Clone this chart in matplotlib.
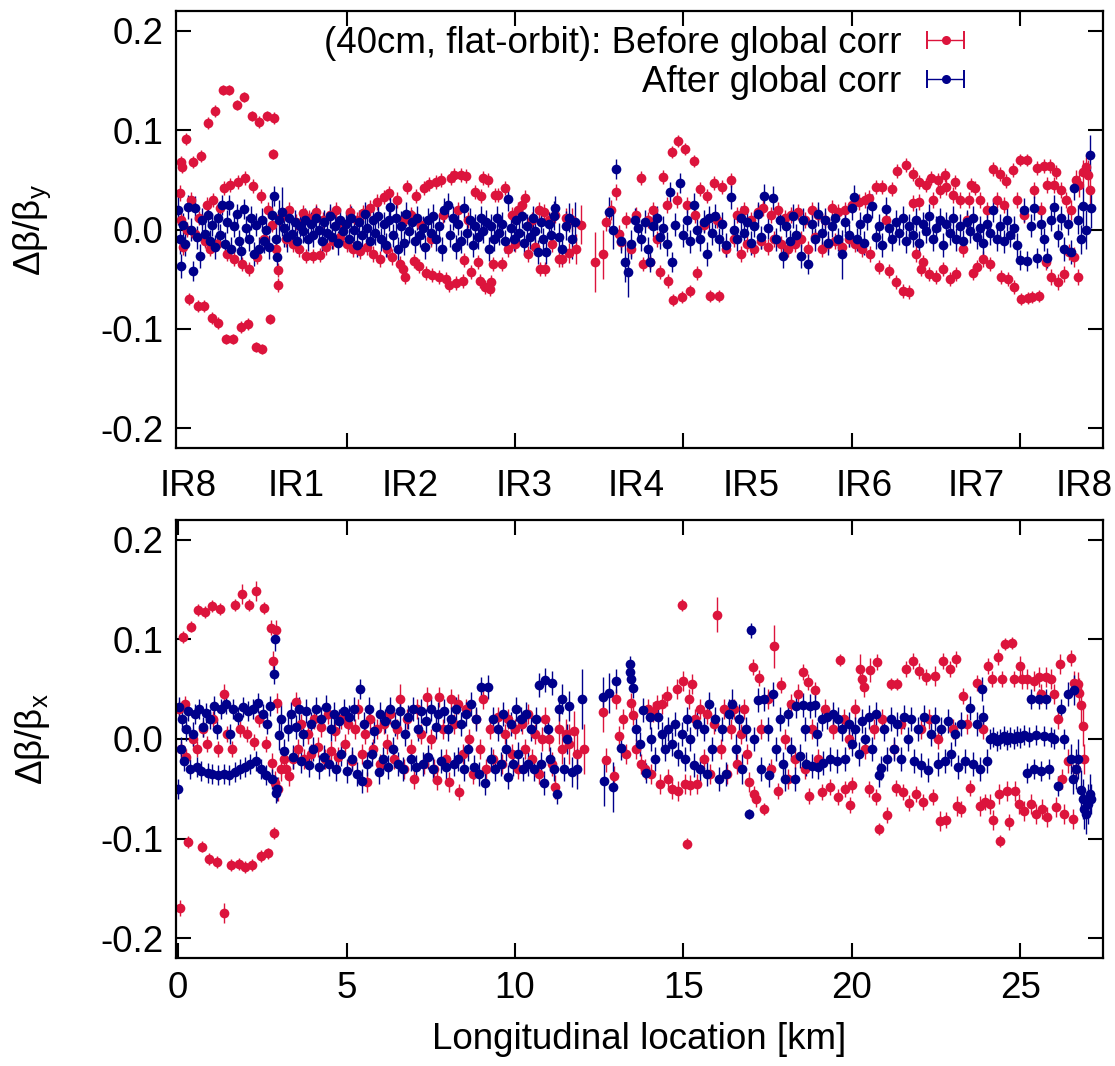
import numpy as np
import matplotlib
matplotlib.use("Agg")
import matplotlib.pyplot as plt
from matplotlib.container import ErrorbarContainer
from matplotlib.lines import Line2D
from matplotlib.collections import LineCollection

plt.rcParams['font.family'] = ['Liberation Sans', 'DejaVu Sans']

# (s [km], delta beta / beta, error)
before_y = [
    (0.05, 0.037, 0.008), (0.08, 0.068, 0.006), (0.10, 0.010, 0.008), (0.12, 0.063, 0.006), (0.15, -0.018, 0.008),
    (0.24, 0.091, 0.006), (0.28, 0.000, 0.008), (0.33, -0.070, 0.006), (0.38, 0.030, 0.008), (0.45, 0.068, 0.006),
    (0.50, -0.005, 0.007), (0.60, -0.077, 0.006), (0.62, 0.012, 0.007), (0.68, 0.074, 0.006), (0.77, -0.077, 0.006),
    (0.80, -0.012, 0.007), (0.85, 0.025, 0.008), (0.89, 0.107, 0.006), (0.95, -0.020, 0.007), (1.00, -0.089, 0.006),
    (1.05, 0.030, 0.007), (1.10, 0.119, 0.006), (1.15, -0.015, 0.007), (1.20, -0.094, 0.006), (1.25, 0.022, 0.007),
    (1.34, 0.140, 0.005), (1.36, 0.042, 0.007), (1.42, -0.110, 0.005), (1.45, -0.025, 0.007), (1.50, 0.140, 0.005),
    (1.55, 0.045, 0.007), (1.63, -0.110, 0.005), (1.66, -0.030, 0.007), (1.75, 0.125, 0.005), (1.78, 0.048, 0.007),
    (1.87, -0.098, 0.006), (1.90, -0.035, 0.007), (1.96, 0.133, 0.005), (2.00, 0.052, 0.007), (2.08, -0.095, 0.006),
    (2.12, -0.040, 0.007), (2.20, 0.114, 0.005), (2.22, 0.044, 0.007), (2.30, -0.118, 0.005), (2.35, -0.028, 0.007),
    (2.40, 0.108, 0.006), (2.45, 0.034, 0.007), (2.50, -0.120, 0.005), (2.55, -0.010, 0.007), (2.64, 0.114, 0.005),
    (2.66, 0.020, 0.008), (2.73, -0.090, 0.005), (2.78, 0.005, 0.008), (2.82, 0.076, 0.005), (2.85, 0.112, 0.006),
    (2.90, -0.020, 0.008), (2.96, -0.041, 0.007), (2.97, -0.056, 0.007), (3.02, 0.012, 0.010),
    (3.10, 0.015, 0.008), (3.20, -0.010, 0.008), (3.30, 0.020, 0.008), (3.40, -0.015, 0.008), (3.50, 0.008, 0.008),
    (3.60, -0.020, 0.008), (3.70, 0.017, 0.008), (3.80, -0.027, 0.007), (3.90, 0.012, 0.008), (4.00, -0.027, 0.007),
    (4.10, 0.018, 0.008), (4.20, -0.026, 0.007), (4.30, 0.010, 0.008), (4.40, -0.018, 0.008), (4.50, 0.015, 0.008),
    (4.60, -0.012, 0.008), (4.70, 0.020, 0.008), (4.80, -0.008, 0.008), (4.90, 0.005, 0.008), (5.00, -0.015, 0.008),
    (5.10, 0.018, 0.008), (5.20, -0.020, 0.008), (5.30, 0.010, 0.008), (5.40, -0.022, 0.008), (5.50, 0.017, 0.008),
    (5.60, -0.018, 0.008), (5.70, 0.022, 0.008), (5.80, -0.025, 0.008), (5.90, 0.028, 0.008), (6.00, -0.030, 0.008),
    (6.10, 0.033, 0.007), (6.20, -0.020, 0.008), (6.25, 0.037, 0.007), (6.35, -0.028, 0.008), (6.50, 0.030, 0.008),
    (6.60, -0.035, 0.008), (6.68, -0.040, 0.007), (6.72, 0.010, 0.008), (6.75, -0.048, 0.007), (6.80, 0.043, 0.007),
    (6.90, 0.015, 0.008), (7.00, -0.032, 0.007), (7.05, 0.034, 0.007), (7.15, -0.037, 0.007), (7.20, 0.005, 0.008),
    (7.30, 0.042, 0.007), (7.35, -0.044, 0.007), (7.45, 0.046, 0.007), (7.50, -0.010, 0.008), (7.55, -0.046, 0.007),
    (7.65, 0.048, 0.007), (7.75, -0.048, 0.007), (7.80, 0.050, 0.007), (7.85, 0.015, 0.008), (7.95, -0.050, 0.007),
    (8.05, -0.056, 0.007), (8.10, 0.052, 0.007), (8.20, 0.055, 0.007), (8.25, -0.054, 0.007), (8.30, 0.020, 0.008),
    (8.40, 0.055, 0.007), (8.45, -0.052, 0.007), (8.50, -0.031, 0.007), (8.55, 0.054, 0.007), (8.60, 0.010, 0.008),
    (8.70, -0.043, 0.007), (8.80, 0.038, 0.007), (8.90, -0.033, 0.007), (8.95, -0.052, 0.007), (9.00, 0.034, 0.007),
    (9.05, 0.052, 0.007), (9.10, -0.058, 0.007), (9.20, 0.050, 0.007), (9.25, -0.060, 0.007), (9.30, -0.053, 0.007),
    (9.35, -0.035, 0.007), (9.40, 0.035, 0.007), (9.50, 0.035, 0.007), (9.60, -0.035, 0.007), (9.70, 0.042, 0.007),
    (9.80, -0.020, 0.008), (9.90, 0.015, 0.008), (10.00, -0.015, 0.008), (10.10, 0.020, 0.008), (10.20, 0.025, 0.008),
    (10.30, 0.032, 0.008), (10.40, -0.025, 0.008), (10.50, 0.010, 0.008), (10.60, -0.018, 0.008), (10.70, 0.020, 0.008),
    (10.75, -0.040, 0.007), (10.85, 0.018, 0.008), (10.90, -0.040, 0.007), (11.00, 0.010, 0.008), (11.10, -0.015, 0.008),
    (11.20, 0.015, 0.008), (11.30, -0.030, 0.008), (11.40, -0.030, 0.008), (11.50, 0.012, 0.010), (11.60, -0.024, 0.010),
    (11.70, 0.010, 0.012), (11.80, -0.020, 0.015), (11.95, 0.005, 0.020),
    (12.37, -0.033, 0.030), (12.60, -0.025, 0.025), (12.70, 0.008, 0.010), (12.85, 0.020, 0.010), (13.00, 0.038, 0.008),
    (13.10, -0.005, 0.010), (13.15, -0.013, 0.008), (13.30, 0.010, 0.008), (13.45, -0.020, 0.008), (13.60, 0.015, 0.008),
    (13.75, 0.052, 0.007), (13.80, -0.035, 0.007), (13.95, 0.010, 0.008), (14.00, -0.033, 0.007), (14.10, 0.020, 0.008),
    (14.20, -0.010, 0.008), (14.30, -0.043, 0.007), (14.40, 0.053, 0.007), (14.50, 0.025, 0.008), (14.55, -0.052, 0.007),
    (14.65, 0.078, 0.006), (14.70, -0.071, 0.006), (14.80, 0.030, 0.008), (14.85, 0.089, 0.006), (14.95, -0.068, 0.006),
    (15.05, 0.081, 0.006), (15.10, 0.025, 0.008), (15.20, -0.062, 0.006), (15.30, 0.069, 0.006), (15.35, 0.015, 0.008),
    (15.40, -0.044, 0.007), (15.50, 0.041, 0.007), (15.60, 0.005, 0.008), (15.70, 0.034, 0.007), (15.80, -0.067, 0.006),
    (15.90, 0.047, 0.007), (16.00, 0.010, 0.008), (16.05, -0.067, 0.006), (16.15, 0.043, 0.007), (16.25, -0.020, 0.008),
    (16.40, 0.050, 0.007), (16.50, -0.010, 0.008),
    (16.60, 0.015, 0.008), (16.70, -0.025, 0.008), (16.80, 0.020, 0.008), (16.90, -0.015, 0.008), (17.00, 0.010, 0.008),
    (17.10, -0.020, 0.008), (17.20, 0.018, 0.008), (17.30, -0.012, 0.008), (17.35, 0.022, 0.008), (17.50, -0.018, 0.008),
    (17.60, 0.015, 0.008), (17.70, -0.010, 0.008), (17.80, 0.020, 0.008), (17.90, -0.015, 0.008), (18.00, 0.012, 0.008),
    (18.10, -0.020, 0.008), (18.20, 0.015, 0.008), (18.30, -0.015, 0.008), (18.40, 0.018, 0.008), (18.50, -0.010, 0.008),
    (18.60, 0.010, 0.008), (18.70, -0.020, 0.008), (18.80, 0.020, 0.008), (18.90, -0.008, 0.008), (19.00, 0.015, 0.008),
    (19.10, -0.020, 0.008), (19.20, 0.010, 0.008), (19.30, -0.015, 0.008), (19.40, 0.022, 0.008), (19.50, -0.012, 0.008),
    (19.60, 0.018, 0.008), (19.70, -0.018, 0.008), (19.80, 0.020, 0.008), (19.90, -0.010, 0.008), (20.00, 0.025, 0.008),
    (20.10, -0.015, 0.008), (20.20, 0.028, 0.008), (20.30, -0.020, 0.008), (20.40, 0.030, 0.008), (20.50, 0.032, 0.008),
    (20.55, -0.025, 0.008),
    (20.70, 0.043, 0.007), (20.80, -0.038, 0.007), (20.90, 0.043, 0.007), (21.00, 0.010, 0.008), (21.10, -0.042, 0.007),
    (21.20, 0.041, 0.007), (21.30, -0.053, 0.007), (21.35, 0.059, 0.007), (21.50, -0.062, 0.007), (21.60, 0.065, 0.007),
    (21.70, -0.063, 0.007), (21.80, 0.056, 0.007), (21.82, 0.027, 0.008), (21.90, -0.025, 0.008), (21.98, 0.028, 0.008),
    (22.00, 0.048, 0.007), (22.05, -0.040, 0.007), (22.10, -0.033, 0.007), (22.20, 0.045, 0.007), (22.30, -0.045, 0.007),
    (22.35, 0.052, 0.007), (22.40, 0.030, 0.008), (22.50, -0.048, 0.007), (22.55, 0.050, 0.007), (22.60, 0.040, 0.008),
    (22.70, -0.040, 0.007), (22.75, 0.055, 0.007), (22.80, 0.043, 0.008), (22.90, -0.050, 0.007), (23.00, 0.035, 0.008),
    (23.05, 0.048, 0.007), (23.10, -0.045, 0.007), (23.20, 0.030, 0.008), (23.30, -0.020, 0.008), (23.40, 0.010, 0.008),
    (23.48, 0.030, 0.008), (23.52, 0.045, 0.007), (23.60, -0.044, 0.007), (23.65, 0.042, 0.007), (23.70, -0.038, 0.007),
    (23.80, 0.030, 0.008), (23.90, -0.030, 0.008), (24.00, 0.020, 0.008), (24.10, -0.035, 0.007), (24.20, 0.061, 0.007),
    (24.30, 0.030, 0.008), (24.38, 0.056, 0.007), (24.42, -0.048, 0.007), (24.50, 0.025, 0.008), (24.58, 0.049, 0.007),
    (24.62, -0.050, 0.007), (24.78, 0.060, 0.007), (24.82, -0.058, 0.007), (24.90, 0.030, 0.008), (24.98, 0.070, 0.006),
    (25.02, -0.070, 0.006), (25.10, 0.015, 0.008), (25.18, 0.070, 0.006), (25.22, -0.069, 0.006), (25.35, -0.068, 0.006),
    (25.40, 0.040, 0.008), (25.50, 0.062, 0.007), (25.55, -0.067, 0.006), (25.60, 0.020, 0.008), (25.70, 0.064, 0.007),
    (25.75, -0.033, 0.008), (25.80, 0.045, 0.008), (25.88, 0.064, 0.007), (25.92, -0.048, 0.008), (26.00, 0.045, 0.008),
    (26.05, 0.058, 0.007), (26.10, -0.053, 0.008), (26.20, 0.040, 0.008), (26.30, -0.045, 0.008), (26.35, 0.030, 0.008),
    (26.45, -0.023, 0.008), (26.50, 0.020, 0.010), (26.60, -0.028, 0.010), (26.65, 0.050, 0.010), (26.70, -0.048, 0.008),
    (26.75, 0.045, 0.012), (26.85, 0.058, 0.012), (26.95, 0.063, 0.012), (27.00, 0.055, 0.015), (27.05, 0.040, 0.015),
]

after_y = [
    (0.00, 0.020, 0.015), (0.05, -0.010, 0.015), (0.09, -0.037, 0.012), (0.15, 0.005, 0.012), (0.22, -0.015, 0.012),
    (0.30, 0.023, 0.012), (0.38, 0.000, 0.012), (0.45, -0.042, 0.010), (0.50, 0.022, 0.012), (0.56, -0.008, 0.012),
    (0.65, -0.027, 0.012), (0.72, 0.010, 0.012), (0.80, -0.005, 0.012), (0.88, 0.015, 0.012), (0.95, -0.012, 0.012),
    (1.02, 0.005, 0.012), (1.10, -0.018, 0.012), (1.18, 0.012, 0.012), (1.25, -0.006, 0.012), (1.30, 0.025, 0.010),
    (1.38, -0.015, 0.012), (1.45, 0.008, 0.012), (1.50, 0.025, 0.010), (1.58, -0.020, 0.012), (1.65, 0.004, 0.012),
    (1.75, 0.016, 0.010), (1.82, -0.012, 0.012), (1.88, -0.022, 0.012), (1.95, 0.021, 0.010), (2.02, 0.002, 0.012),
    (2.10, -0.010, 0.012), (2.18, 0.012, 0.012), (2.25, -0.025, 0.012), (2.32, 0.005, 0.012), (2.40, -0.020, 0.012),
    (2.48, 0.010, 0.012), (2.55, -0.012, 0.012), (2.62, 0.000, 0.012), (2.70, -0.018, 0.012), (2.78, 0.015, 0.015),
    (2.85, 0.034, 0.010), (2.90, -0.010, 0.015), (2.95, -0.028, 0.012), (3.00, 0.010, 0.020),
    (3.08, 0.018, 0.025), (3.15, 0.002, 0.020), (3.22, -0.008, 0.015), (3.30, 0.012, 0.012), (3.38, -0.005, 0.012),
    (3.46, 0.008, 0.012), (3.54, -0.012, 0.012), (3.62, 0.004, 0.012), (3.70, -0.002, 0.012), (3.78, 0.010, 0.012),
    (3.86, -0.010, 0.012), (3.94, 0.006, 0.012), (4.02, -0.006, 0.012), (4.10, 0.012, 0.012), (4.18, 0.000, 0.012),
    (4.26, -0.012, 0.012), (4.34, 0.008, 0.012), (4.42, -0.004, 0.012), (4.50, 0.014, 0.012), (4.58, -0.008, 0.012),
    (4.66, 0.004, 0.012), (4.74, -0.014, 0.012), (4.82, 0.010, 0.012), (4.90, -0.002, 0.012), (4.98, 0.006, 0.012),
    (5.06, -0.010, 0.012), (5.14, 0.012, 0.012), (5.22, 0.000, 0.012), (5.30, -0.016, 0.012), (5.38, 0.008, 0.012),
    (5.46, -0.006, 0.012), (5.54, 0.016, 0.012), (5.62, 0.002, 0.012), (5.70, -0.012, 0.012), (5.78, 0.010, 0.012),
    (5.86, -0.004, 0.012), (5.94, 0.014, 0.012), (6.02, -0.010, 0.012), (6.10, 0.006, 0.012), (6.18, -0.016, 0.012),
    (6.26, 0.010, 0.012), (6.30, 0.023, 0.012), (6.38, -0.006, 0.012), (6.46, 0.012, 0.015), (6.54, -0.020, 0.012),
    (6.62, 0.004, 0.015), (6.70, -0.014, 0.012), (6.78, 0.016, 0.012), (6.86, -0.002, 0.012), (6.94, 0.008, 0.012),
    (7.02, -0.012, 0.012), (7.10, 0.012, 0.012), (7.18, -0.006, 0.012), (7.26, 0.002, 0.012), (7.34, -0.018, 0.012),
    (7.42, 0.010, 0.012), (7.50, -0.004, 0.012), (7.58, 0.014, 0.012), (7.66, -0.010, 0.012), (7.74, 0.004, 0.012),
    (7.82, -0.020, 0.012), (7.90, 0.020, 0.012), (8.00, 0.025, 0.012), (8.08, -0.006, 0.012), (8.16, 0.012, 0.012),
    (8.24, -0.018, 0.012), (8.32, 0.006, 0.012), (8.40, -0.012, 0.012), (8.50, 0.022, 0.012), (8.58, -0.004, 0.012),
    (8.66, 0.010, 0.012), (8.74, -0.016, 0.012), (8.82, 0.004, 0.012), (8.90, -0.008, 0.012), (8.98, 0.012, 0.012),
    (9.06, -0.002, 0.012), (9.14, 0.008, 0.012), (9.22, -0.020, 0.012), (9.30, 0.004, 0.012), (9.38, -0.010, 0.012),
    (9.46, 0.012, 0.012), (9.54, -0.004, 0.012), (9.62, 0.006, 0.012), (9.70, -0.012, 0.012), (9.80, 0.031, 0.012),
    (9.88, 0.002, 0.012), (9.96, -0.010, 0.012), (10.04, 0.010, 0.012), (10.12, -0.004, 0.012), (10.20, 0.014, 0.012),
    (10.28, -0.014, 0.012), (10.36, 0.004, 0.012), (10.44, -0.008, 0.012), (10.52, 0.012, 0.012), (10.60, -0.002, 0.012),
    (10.68, -0.023, 0.012), (10.76, 0.008, 0.012), (10.84, -0.010, 0.012), (10.92, -0.023, 0.012), (11.00, 0.006, 0.012),
    (11.08, -0.006, 0.012), (11.16, 0.014, 0.015), (11.20, 0.022, 0.012), (11.30, -0.008, 0.015), (11.40, -0.020, 0.015),
    (11.50, 0.004, 0.015), (11.60, 0.012, 0.015), (11.70, -0.010, 0.020), (11.78, 0.008, 0.020),
    (12.80, 0.018, 0.015), (12.90, 0.000, 0.020), (13.00, 0.061, 0.010), (13.15, -0.012, 0.012), (13.27, -0.033, 0.020),
    (13.35, -0.043, 0.025), (13.45, -0.015, 0.015), (13.55, 0.010, 0.012), (13.65, 0.002, 0.012), (13.75, -0.010, 0.012),
    (13.85, 0.008, 0.012), (13.95, -0.020, 0.012), (14.00, -0.033, 0.010), (14.10, 0.004, 0.012), (14.20, 0.012, 0.012),
    (14.30, -0.008, 0.012), (14.40, 0.002, 0.012), (14.50, -0.015, 0.012), (14.60, 0.038, 0.010), (14.65, -0.033, 0.010),
    (14.75, 0.005, 0.012), (14.90, 0.047, 0.010), (15.00, -0.006, 0.012), (15.10, 0.010, 0.012), (15.20, -0.012, 0.012),
    (15.30, 0.025, 0.012), (15.40, 0.000, 0.012), (15.50, -0.010, 0.012), (15.60, 0.008, 0.012), (15.70, -0.025, 0.012),
    (15.75, 0.012, 0.012), (15.85, -0.004, 0.012), (15.95, 0.014, 0.012), (16.05, -0.010, 0.012), (16.15, 0.006, 0.012),
    (16.25, -0.016, 0.012), (16.40, 0.033, 0.012), (16.50, 0.000, 0.012),
    (16.60, -0.010, 0.012), (16.70, 0.012, 0.012), (16.80, -0.004, 0.012), (16.90, 0.008, 0.012), (17.00, -0.014, 0.012),
    (17.10, 0.004, 0.012), (17.20, 0.016, 0.012), (17.30, -0.008, 0.012), (17.40, 0.034, 0.012), (17.50, 0.002, 0.012),
    (17.65, 0.032, 0.012), (17.75, -0.010, 0.012), (17.85, 0.010, 0.012), (17.95, -0.027, 0.012), (18.05, 0.004, 0.012),
    (18.15, -0.012, 0.012), (18.25, 0.014, 0.012), (18.35, -0.006, 0.012), (18.50, -0.027, 0.012), (18.55, 0.010, 0.012),
    (18.70, -0.035, 0.010), (18.80, 0.006, 0.012), (18.90, -0.010, 0.012), (19.00, 0.016, 0.012), (19.10, -0.004, 0.012),
    (19.20, 0.010, 0.012), (19.30, -0.014, 0.012), (19.40, 0.004, 0.012), (19.50, 0.012, 0.012), (19.60, -0.010, 0.012),
    (19.70, -0.025, 0.025), (19.80, 0.008, 0.012), (19.90, -0.006, 0.012), (20.00, 0.022, 0.012), (20.05, 0.033, 0.012),
    (20.15, -0.010, 0.012), (20.25, 0.006, 0.012), (20.35, -0.014, 0.012), (20.45, 0.012, 0.012), (20.60, 0.024, 0.012),
    (20.70, -0.008, 0.012), (20.80, 0.004, 0.012), (20.90, -0.016, 0.012), (21.00, 0.021, 0.012), (21.10, 0.002, 0.012),
    (21.20, -0.010, 0.012), (21.30, 0.008, 0.012), (21.40, -0.004, 0.012), (21.50, 0.012, 0.012), (21.60, -0.012, 0.012),
    (21.70, 0.004, 0.012), (21.80, -0.006, 0.012), (21.90, 0.010, 0.012), (22.00, -0.014, 0.012), (22.10, 0.006, 0.012),
    (22.20, -0.002, 0.012), (22.30, 0.014, 0.012), (22.40, -0.010, 0.012), (22.50, 0.002, 0.012), (22.60, 0.010, 0.012),
    (22.70, -0.016, 0.012), (22.80, 0.006, 0.012), (22.90, -0.004, 0.012), (23.00, 0.012, 0.012), (23.10, -0.010, 0.012),
    (23.20, 0.004, 0.012), (23.30, -0.012, 0.012), (23.40, 0.008, 0.012), (23.50, -0.002, 0.012), (23.60, 0.012, 0.012),
    (23.70, -0.008, 0.012), (23.80, 0.002, 0.012), (23.90, -0.014, 0.012), (24.00, 0.006, 0.012), (24.10, -0.004, 0.012),
    (24.20, 0.020, 0.012), (24.30, -0.010, 0.012), (24.40, 0.004, 0.012), (24.50, -0.012, 0.012), (24.60, 0.010, 0.012),
    (24.70, -0.006, 0.012), (24.80, 0.002, 0.012), (24.90, -0.016, 0.012), (25.00, -0.031, 0.010), (25.10, 0.020, 0.012),
    (25.20, -0.032, 0.010), (25.30, 0.004, 0.012), (25.40, 0.022, 0.012), (25.50, -0.029, 0.010), (25.60, 0.006, 0.012),
    (25.70, -0.010, 0.012), (25.80, -0.029, 0.010), (25.90, 0.010, 0.012), (26.00, 0.023, 0.012), (26.10, -0.006, 0.012),
    (26.20, 0.012, 0.012), (26.30, -0.020, 0.012), (26.40, 0.006, 0.012), (26.50, -0.023, 0.012), (26.60, 0.042, 0.012),
    (26.70, 0.010, 0.015), (26.80, -0.010, 0.015), (26.85, 0.024, 0.020), (26.95, 0.000, 0.020), (27.06, 0.075, 0.020),
    (27.10, 0.022, 0.020),
]

before_x = [
    (0.03, 0.030, 0.008), (0.06, -0.170, 0.008), (0.10, -0.010, 0.008), (0.15, 0.102, 0.006), (0.20, 0.035, 0.008),
    (0.25, -0.018, 0.008), (0.30, -0.103, 0.006), (0.39, 0.113, 0.006), (0.45, 0.000, 0.008), (0.55, -0.010, 0.008),
    (0.60, 0.130, 0.006), (0.70, -0.108, 0.006), (0.75, 0.010, 0.008), (0.80, 0.128, 0.006), (0.85, -0.005, 0.008),
    (0.92, -0.121, 0.006), (1.00, 0.134, 0.006), (1.05, 0.020, 0.008), (1.15, -0.124, 0.006), (1.20, -0.010, 0.008),
    (1.25, 0.131, 0.006), (1.35, 0.045, 0.010), (1.37, -0.175, 0.010), (1.45, 0.005, 0.008), (1.57, -0.127, 0.006),
    (1.60, -0.010, 0.008), (1.70, 0.135, 0.006), (1.80, -0.126, 0.006), (1.85, 0.010, 0.008), (1.90, 0.146, 0.010),
    (2.00, -0.129, 0.006), (2.05, 0.005, 0.008), (2.10, 0.135, 0.006), (2.20, -0.127, 0.006), (2.25, -0.003, 0.008),
    (2.30, 0.149, 0.010), (2.40, 0.020, 0.008), (2.45, -0.118, 0.006), (2.55, 0.132, 0.006), (2.60, -0.005, 0.008),
    (2.67, -0.115, 0.006), (2.75, 0.112, 0.008), (2.78, -0.024, 0.010), (2.83, 0.078, 0.010), (2.85, -0.094, 0.006),
    (2.88, -0.044, 0.012), (2.90, 0.110, 0.010), (2.93, 0.036, 0.010), (2.97, -0.050, 0.012), (3.05, -0.030, 0.012),
    (3.15, -0.020, 0.012), (3.20, -0.030, 0.010), (3.30, -0.037, 0.010), (3.40, -0.020, 0.010),
    (3.50, 0.037, 0.010), (3.55, -0.010, 0.010), (3.65, 0.015, 0.010), (3.75, -0.020, 0.010), (3.85, 0.005, 0.010),
    (3.95, -0.015, 0.010), (4.05, 0.020, 0.010), (4.15, -0.008, 0.010), (4.25, 0.012, 0.010), (4.35, -0.020, 0.010),
    (4.45, 0.025, 0.010), (4.55, -0.012, 0.010), (4.65, 0.008, 0.010), (4.75, -0.018, 0.010), (4.85, 0.020, 0.010),
    (4.95, -0.005, 0.010), (5.05, 0.015, 0.010), (5.15, -0.022, 0.010), (5.25, 0.010, 0.010), (5.35, 0.030, 0.010),
    (5.45, -0.015, 0.010), (5.55, 0.005, 0.010), (5.60, -0.043, 0.010), (5.70, 0.020, 0.010), (5.80, -0.010, 0.010),
    (5.90, 0.010, 0.010), (6.00, -0.025, 0.010), (6.10, 0.015, 0.010), (6.20, -0.005, 0.010), (6.30, 0.025, 0.010),
    (6.40, -0.020, 0.010), (6.50, 0.010, 0.010), (6.60, 0.040, 0.015), (6.70, -0.030, 0.010), (6.80, 0.020, 0.010),
    (6.90, -0.010, 0.010), (7.00, -0.040, 0.010), (7.10, 0.030, 0.010), (7.20, 0.005, 0.010), (7.30, -0.025, 0.010),
    (7.40, 0.042, 0.010), (7.50, 0.000, 0.010), (7.60, -0.030, 0.010), (7.70, -0.041, 0.010), (7.75, 0.042, 0.010),
    (7.85, 0.010, 0.010), (7.95, -0.020, 0.010), (8.05, -0.043, 0.010), (8.10, 0.040, 0.010), (8.20, 0.015, 0.010),
    (8.30, 0.035, 0.010), (8.35, -0.053, 0.008), (8.45, -0.015, 0.010), (8.55, 0.030, 0.010), (8.65, 0.000, 0.010),
    (8.75, -0.035, 0.010), (8.85, 0.020, 0.010), (8.95, -0.010, 0.010), (9.05, 0.040, 0.010), (9.15, -0.030, 0.010),
    (9.25, 0.010, 0.010), (9.35, -0.020, 0.010), (9.50, 0.022, 0.010), (9.60, -0.025, 0.010), (9.70, 0.005, 0.010),
    (9.80, 0.020, 0.010), (9.90, -0.015, 0.010), (10.00, 0.010, 0.010),
    (10.10, -0.030, 0.010), (10.20, 0.015, 0.010), (10.30, -0.010, 0.010), (10.40, 0.025, 0.010), (10.50, -0.020, 0.010),
    (10.60, 0.005, 0.010), (10.70, -0.035, 0.010), (10.80, 0.000, 0.012), (10.90, 0.020, 0.012), (11.00, 0.000, 0.012),
    (11.10, -0.025, 0.012), (11.20, -0.048, 0.012), (11.30, 0.010, 0.015), (11.40, -0.010, 0.015), (11.50, 0.005, 0.015),
    (11.60, -0.005, 0.020), (11.75, 0.008, 0.020), (11.85, -0.015, 0.025), (12.05, -0.010, 0.025),
    (12.60, 0.027, 0.020), (12.70, -0.021, 0.012), (12.95, -0.037, 0.010), (13.00, 0.040, 0.010), (13.10, 0.003, 0.010),
    (13.20, 0.020, 0.010), (13.30, -0.015, 0.010), (13.45, 0.036, 0.010), (13.50, 0.024, 0.010), (13.60, -0.010, 0.010),
    (13.75, -0.025, 0.010), (13.85, -0.030, 0.010), (13.95, 0.030, 0.010), (14.05, -0.035, 0.010), (14.10, 0.027, 0.010),
    (14.20, 0.034, 0.010), (14.30, -0.045, 0.010), (14.35, 0.035, 0.010), (14.50, 0.043, 0.010), (14.55, -0.040, 0.010),
    (14.65, -0.050, 0.010),
    (14.80, 0.050, 0.010), (14.85, -0.052, 0.010), (14.95, 0.135, 0.006), (15.00, 0.058, 0.010), (15.05, -0.045, 0.010),
    (15.10, -0.105, 0.006), (15.15, 0.040, 0.010), (15.20, -0.046, 0.010), (15.25, 0.055, 0.010), (15.35, 0.020, 0.010),
    (15.40, -0.045, 0.010), (15.50, 0.030, 0.010), (15.60, -0.020, 0.010), (15.70, 0.025, 0.010), (15.80, -0.035, 0.010),
    (15.90, 0.015, 0.010), (16.00, 0.125, 0.018), (16.10, -0.010, 0.010), (16.20, 0.030, 0.010), (16.30, -0.035, 0.010),
    (16.40, 0.010, 0.010), (16.50, 0.030, 0.010), (16.60, -0.025, 0.010), (16.70, 0.005, 0.010), (16.80, 0.030, 0.010),
    (16.90, -0.015, 0.010), (16.95, -0.043, 0.010), (17.05, 0.072, 0.008), (17.10, -0.055, 0.008), (17.15, -0.060, 0.008),
    (17.25, 0.061, 0.008), (17.30, 0.010, 0.010), (17.40, -0.070, 0.006), (17.50, 0.040, 0.010), (17.60, -0.030, 0.010),
    (17.70, 0.093, 0.022), (17.80, -0.052, 0.008), (17.90, 0.054, 0.008), (18.00, 0.000, 0.010), (18.10, -0.040, 0.010),
    (18.20, 0.035, 0.010), (18.30, -0.020, 0.010), (18.40, 0.045, 0.010), (18.55, 0.067, 0.008), (18.60, -0.030, 0.010),
    (18.70, 0.057, 0.008), (18.72, -0.057, 0.008), (18.80, 0.010, 0.010), (18.90, 0.049, 0.008), (19.00, -0.020, 0.010),
    (19.10, -0.053, 0.008), (19.20, 0.030, 0.010), (19.35, -0.048, 0.008), (19.45, 0.010, 0.010), (19.60, -0.058, 0.008),
    (19.65, 0.079, 0.006), (19.75, 0.020, 0.010), (19.80, -0.050, 0.008), (19.90, 0.000, 0.010), (19.95, -0.066, 0.008),
    (20.00, -0.046, 0.008), (20.10, 0.030, 0.010), (20.25, 0.070, 0.015), (20.30, 0.060, 0.012), (20.35, 0.052, 0.010),
    (20.40, -0.010, 0.010), (20.50, -0.050, 0.008), (20.55, 0.069, 0.012), (20.65, 0.010, 0.010), (20.70, -0.058, 0.008),
    (20.75, 0.077, 0.008), (20.80, -0.090, 0.006), (20.90, 0.020, 0.010), (21.05, -0.076, 0.008), (21.15, 0.055, 0.006),
    (21.25, -0.010, 0.010), (21.30, -0.049, 0.008), (21.35, 0.055, 0.006), (21.45, 0.015, 0.010), (21.50, -0.053, 0.008),
    (21.60, 0.070, 0.008), (21.70, -0.064, 0.008), (21.80, 0.078, 0.008), (21.90, -0.055, 0.008), (22.00, 0.068, 0.008),
    (22.05, 0.010, 0.010), (22.10, -0.063, 0.008), (22.20, 0.062, 0.008), (22.30, 0.020, 0.010), (22.40, -0.058, 0.008),
    (22.45, 0.063, 0.010), (22.55, 0.000, 0.010), (22.60, -0.082, 0.010), (22.70, 0.078, 0.008), (22.80, -0.081, 0.008),
    (22.90, 0.070, 0.008), (23.00, 0.010, 0.010), (23.08, 0.080, 0.008), (23.12, -0.067, 0.010), (23.25, -0.070, 0.008),
    (23.30, 0.043, 0.008), (23.40, 0.015, 0.010), (23.50, -0.049, 0.008), (23.70, 0.056, 0.008), (23.80, -0.067, 0.010),
    (23.90, 0.010, 0.010), (23.95, -0.063, 0.008), (24.05, 0.073, 0.008), (24.10, -0.065, 0.010), (24.15, 0.060, 0.008),
    (24.20, -0.081, 0.010), (24.33, 0.082, 0.008), (24.37, -0.055, 0.010), (24.40, -0.102, 0.006), (24.45, 0.060, 0.008),
    (24.55, 0.095, 0.006), (24.60, -0.052, 0.010), (24.65, -0.083, 0.008), (24.75, 0.096, 0.006), (24.80, 0.060, 0.008),
    (24.85, -0.052, 0.010), (24.95, -0.065, 0.010), (25.00, 0.073, 0.010), (25.05, 0.060, 0.010), (25.10, -0.072, 0.010),
    (25.20, 0.060, 0.010), (25.30, -0.065, 0.010), (25.40, 0.058, 0.010), (25.45, -0.075, 0.010), (25.55, 0.062, 0.010),
    (25.60, 0.045, 0.010), (25.65, -0.070, 0.010), (25.75, 0.062, 0.010), (25.80, -0.078, 0.010), (25.90, 0.060, 0.010),
    (26.00, 0.045, 0.010), (26.05, -0.068, 0.010), (26.10, 0.020, 0.010), (26.18, 0.075, 0.010), (26.22, -0.040, 0.010),
    (26.30, -0.075, 0.010), (26.40, -0.022, 0.012), (26.50, 0.081, 0.008), (26.55, -0.080, 0.010), (26.60, 0.056, 0.012),
    (26.65, -0.030, 0.012), (26.70, 0.055, 0.012), (26.75, 0.046, 0.015), (26.80, 0.034, 0.020), (26.85, 0.013, 0.020),
    (26.90, -0.020, 0.015),
]

after_x = [
    (0.00, -0.050, 0.010), (0.03, 0.032, 0.010), (0.08, -0.010, 0.012), (0.12, 0.020, 0.012), (0.18, -0.022, 0.010),
    (0.25, 0.010, 0.012), (0.30, 0.028, 0.010), (0.35, -0.030, 0.010), (0.45, 0.005, 0.012), (0.50, 0.025, 0.010),
    (0.55, -0.028, 0.010), (0.62, 0.030, 0.010), (0.68, -0.032, 0.010), (0.75, 0.012, 0.010), (0.82, 0.026, 0.010),
    (0.88, -0.034, 0.010), (0.95, 0.020, 0.010), (1.02, -0.035, 0.010), (1.08, 0.033, 0.010), (1.15, 0.010, 0.010),
    (1.20, -0.036, 0.010), (1.28, 0.030, 0.010), (1.35, -0.035, 0.010), (1.42, 0.035, 0.010), (1.50, -0.036, 0.010),
    (1.55, 0.005, 0.010), (1.62, 0.030, 0.010), (1.70, -0.033, 0.010), (1.78, 0.022, 0.010), (1.85, -0.030, 0.010),
    (1.92, 0.032, 0.010), (2.00, -0.028, 0.010), (2.08, 0.028, 0.010), (2.15, -0.025, 0.010), (2.22, 0.030, 0.010),
    (2.30, -0.022, 0.010), (2.38, 0.036, 0.010), (2.45, -0.030, 0.010), (2.52, 0.025, 0.010), (2.60, -0.036, 0.010),
    (2.65, 0.015, 0.010), (2.72, 0.033, 0.010), (2.80, -0.040, 0.010), (2.86, 0.065, 0.010), (2.88, 0.100, 0.012),
    (2.90, -0.054, 0.010), (2.95, -0.050, 0.012), (3.00, 0.004, 0.015), (3.05, 0.020, 0.015), (3.15, -0.012, 0.012),
    (3.25, 0.010, 0.012),
    (3.35, 0.025, 0.012), (3.42, -0.018, 0.012), (3.50, 0.012, 0.012), (3.58, 0.030, 0.012), (3.65, -0.022, 0.012),
    (3.72, 0.005, 0.012), (3.80, 0.028, 0.012), (3.88, -0.026, 0.012), (3.95, 0.015, 0.012), (4.02, -0.010, 0.012),
    (4.10, 0.030, 0.012), (4.18, -0.028, 0.012), (4.25, 0.020, 0.012), (4.32, -0.018, 0.012), (4.40, 0.032, 0.012),
    (4.48, -0.025, 0.012), (4.55, 0.010, 0.012), (4.62, 0.025, 0.012), (4.70, -0.030, 0.012), (4.78, 0.018, 0.012),
    (4.85, -0.015, 0.012), (4.92, 0.028, 0.012), (5.00, -0.032, 0.012), (5.08, 0.022, 0.012), (5.15, -0.020, 0.012),
    (5.22, 0.030, 0.012), (5.30, -0.035, 0.012), (5.40, 0.050, 0.010), (5.45, -0.042, 0.012), (5.52, 0.015, 0.012),
    (5.60, -0.025, 0.012), (5.68, 0.030, 0.012), (5.75, -0.015, 0.012), (5.82, 0.008, 0.012), (5.95, -0.033, 0.012),
    (6.00, 0.025, 0.012), (6.08, -0.020, 0.012), (6.15, 0.018, 0.012), (6.22, -0.028, 0.012), (6.30, 0.030, 0.012),
    (6.38, -0.010, 0.012), (6.45, 0.015, 0.012), (6.52, -0.025, 0.012), (6.60, 0.028, 0.015), (6.68, -0.030, 0.012),
    (6.75, 0.005, 0.012), (6.82, 0.022, 0.012), (6.90, -0.020, 0.012), (6.98, 0.030, 0.012), (7.05, -0.028, 0.012),
    (7.12, 0.010, 0.012), (7.20, 0.028, 0.012), (7.28, -0.025, 0.012), (7.35, 0.018, 0.012), (7.42, -0.018, 0.012),
    (7.50, 0.030, 0.012), (7.58, -0.030, 0.012), (7.65, 0.012, 0.012), (7.72, 0.025, 0.012), (7.80, -0.022, 0.012),
    (7.88, 0.028, 0.012), (7.95, -0.028, 0.012), (8.02, 0.010, 0.012), (8.10, 0.020, 0.012), (8.18, -0.025, 0.012),
    (8.25, 0.030, 0.012), (8.32, -0.020, 0.012), (8.40, 0.015, 0.012), (8.48, -0.030, 0.012), (8.55, 0.025, 0.012),
    (8.62, -0.010, 0.012), (8.70, 0.035, 0.012), (8.78, -0.028, 0.012), (8.85, 0.020, 0.012), (8.92, -0.035, 0.012),
    (9.00, 0.052, 0.010), (9.10, -0.044, 0.012), (9.20, 0.052, 0.012), (9.28, -0.020, 0.012),
    (9.35, 0.020, 0.012), (9.42, -0.030, 0.012), (9.50, 0.010, 0.012), (9.58, -0.025, 0.012), (9.65, 0.025, 0.012),
    (9.72, -0.010, 0.012), (9.80, -0.038, 0.012), (9.88, 0.015, 0.012), (9.95, -0.025, 0.012), (10.02, 0.030, 0.012),
    (10.10, -0.015, 0.012), (10.18, 0.020, 0.012), (10.25, -0.030, 0.012), (10.32, 0.025, 0.012), (10.40, -0.025, 0.012),
    (10.48, 0.010, 0.012), (10.55, -0.030, 0.012), (10.62, 0.020, 0.012), (10.70, 0.054, 0.012), (10.78, -0.025, 0.012),
    (10.85, -0.044, 0.012), (10.90, 0.059, 0.012), (10.98, 0.010, 0.012), (11.05, -0.020, 0.012), (11.10, 0.056, 0.012),
    (11.15, -0.030, 0.012), (11.25, -0.055, 0.010), (11.30, 0.030, 0.012), (11.40, 0.040, 0.015), (11.45, -0.030, 0.012),
    (11.55, 0.000, 0.015), (11.60, 0.033, 0.015), (11.70, -0.033, 0.015), (11.85, -0.030, 0.020), (12.00, 0.040, 0.030),
    (12.60, 0.042, 0.020), (12.65, -0.042, 0.025), (12.80, 0.046, 0.020), (12.90, -0.048, 0.025), (13.00, 0.058, 0.012),
    (13.15, -0.009, 0.012), (13.40, 0.075, 0.008), (13.42, 0.067, 0.008), (13.45, 0.060, 0.010), (13.50, 0.051, 0.010),
    (13.60, 0.010, 0.012), (13.70, -0.005, 0.012), (13.80, 0.029, 0.012), (13.90, -0.034, 0.010), (14.00, 0.022, 0.012),
    (14.05, 0.000, 0.012), (14.15, -0.020, 0.012), (14.25, 0.022, 0.012), (14.35, 0.005, 0.012), (14.45, -0.010, 0.012),
    (14.55, 0.010, 0.012), (14.65, -0.005, 0.012), (14.75, 0.015, 0.012), (14.85, -0.015, 0.012), (14.95, 0.005, 0.012),
    (15.05, -0.020, 0.012), (15.10, 0.020, 0.012), (15.20, 0.000, 0.012), (15.30, -0.026, 0.012), (15.40, 0.015, 0.012),
    (15.50, -0.030, 0.012), (15.60, 0.010, 0.012), (15.70, -0.035, 0.012), (15.75, 0.035, 0.012), (15.85, -0.010, 0.012),
    (15.95, 0.020, 0.012), (16.05, -0.040, 0.012), (16.15, 0.010, 0.012), (16.25, -0.035, 0.012), (16.35, 0.025, 0.015),
    (16.45, 0.035, 0.015), (16.55, -0.010, 0.015), (16.65, 0.020, 0.015), (16.75, -0.030, 0.015), (16.85, 0.010, 0.012),
    (16.95, -0.075, 0.005), (17.00, 0.109, 0.008), (17.10, 0.000, 0.012), (17.20, 0.039, 0.012), (17.30, -0.030, 0.012),
    (17.40, 0.040, 0.012), (17.50, 0.010, 0.012), (17.55, -0.036, 0.012), (17.65, 0.045, 0.012), (17.75, -0.010, 0.012),
    (17.85, 0.020, 0.012), (17.95, -0.025, 0.012), (18.00, -0.040, 0.012), (18.10, 0.025, 0.012), (18.20, -0.010, 0.012),
    (18.30, -0.040, 0.012), (18.35, 0.033, 0.012),
    (18.45, -0.017, 0.012), (18.55, 0.034, 0.012), (18.60, 0.010, 0.012), (18.65, -0.025, 0.012), (18.75, 0.033, 0.012),
    (18.80, -0.027, 0.012), (18.90, 0.034, 0.012), (18.95, 0.005, 0.012), (19.00, -0.028, 0.012), (19.10, 0.020, 0.012),
    (19.15, -0.024, 0.012), (19.25, 0.022, 0.012), (19.35, -0.020, 0.012), (19.45, 0.025, 0.012), (19.55, -0.022, 0.012),
    (19.60, 0.020, 0.012), (19.70, 0.010, 0.012), (19.80, -0.020, 0.012), (19.90, 0.015, 0.012), (20.00, -0.005, 0.012),
    (20.10, 0.010, 0.012), (20.20, -0.015, 0.012), (20.30, 0.018, 0.012), (20.40, 0.000, 0.012), (20.50, 0.022, 0.012),
    (20.60, -0.010, 0.012), (20.70, 0.025, 0.012), (20.80, -0.036, 0.012), (20.85, -0.029, 0.012), (20.95, 0.010, 0.012),
    (21.05, -0.020, 0.012), (21.15, 0.020, 0.012), (21.25, -0.010, 0.012), (21.35, 0.015, 0.012), (21.45, -0.020, 0.012),
    (21.55, 0.022, 0.012), (21.65, 0.000, 0.012), (21.75, 0.020, 0.012), (21.85, -0.022, 0.012), (21.95, 0.010, 0.012),
    (22.05, -0.026, 0.012), (22.15, 0.022, 0.012), (22.25, -0.031, 0.012), (22.35, 0.005, 0.012), (22.45, 0.020, 0.012),
    (22.55, -0.025, 0.012), (22.65, 0.010, 0.012), (22.75, -0.022, 0.012), (22.85, 0.018, 0.012), (22.95, -0.015, 0.012),
    (23.05, 0.005, 0.012), (23.15, -0.028, 0.012), (23.25, 0.015, 0.012), (23.35, -0.022, 0.012), (23.50, 0.031, 0.012),
    (23.60, -0.025, 0.012), (23.70, 0.015, 0.012), (23.80, -0.030, 0.012), (23.85, 0.050, 0.012), (23.90, 0.022, 0.012),
    (24.00, -0.022, 0.012), (24.10, 0.000, 0.010), (24.20, 0.002, 0.010), (24.30, -0.002, 0.010), (24.40, 0.000, 0.010),
    (24.50, 0.003, 0.010), (24.60, -0.001, 0.010), (24.70, 0.002, 0.010), (24.80, 0.000, 0.010), (24.90, 0.003, 0.010),
    (25.00, 0.001, 0.010), (25.10, 0.004, 0.010), (25.20, -0.034, 0.010), (25.25, 0.002, 0.010), (25.30, 0.040, 0.010),
    (25.40, -0.030, 0.010), (25.45, 0.004, 0.010), (25.55, 0.040, 0.010), (25.60, -0.032, 0.010), (25.70, 0.003, 0.010),
    (25.75, 0.040, 0.010), (25.85, -0.030, 0.010), (25.90, 0.002, 0.010), (26.00, 0.000, 0.010), (26.10, -0.047, 0.010),
    (26.20, 0.030, 0.010), (26.30, 0.000, 0.010), (26.40, 0.045, 0.012), (26.50, -0.020, 0.015), (26.55, -0.040, 0.015),
    (26.60, 0.049, 0.015), (26.65, -0.030, 0.020), (26.70, -0.020, 0.020), (26.80, -0.051, 0.020), (26.85, -0.060, 0.020),
    (26.90, -0.070, 0.020), (26.95, -0.075, 0.020), (27.00, -0.065, 0.020), (27.05, -0.055, 0.020), (27.10, -0.060, 0.015),
]

ir_pos = [0.3, 3.5, 6.9, 10.27, 13.6, 17.0, 20.35, 23.7, 26.9]
ir_names = ["IR8", "IR1", "IR2", "IR3", "IR4", "IR5", "IR6", "IR7", "IR8"]
km_ticks = [0, 5, 10, 15, 20, 25]
y_ticks = [-0.2, -0.1, 0.0, 0.1, 0.2]

RED = "#dc143c"
BLUE = "#00008b"
FS = 26.5
MS = 7
CAP = 6.5

fig = plt.figure(figsize=(11.15, 10.66), dpi=100)
W, H = 1115, 1066
ax1 = fig.add_axes([176 / W, 1 - 448 / H, 927 / W, 437 / H])
ax2 = fig.add_axes([176 / W, 1 - 958 / H, 927 / W, 438 / H])


def draw(ax, data, color):
    d = np.array(data)
    ax.errorbar(d[:, 0], d[:, 1], yerr=d[:, 2], fmt="o", color=color, ms=MS, mew=0,
                elinewidth=1.0, capsize=CAP, capthick=1.4)


for ax, before, after in [(ax1, before_y, after_y), (ax2, before_x, after_x)]:
    draw(ax, before, RED)
    draw(ax, after, BLUE)
    ax.set_xlim(-0.06, 27.45)
    ax.set_ylim(-0.22, 0.22)
    ax.set_yticks(y_ticks)
    ax.set_yticklabels(["%.1f" % t for t in y_ticks])
    ax.tick_params(direction="in", top=True, right=True, length=11, width=1.5,
                   labelsize=FS, pad=9)
    for sp in ax.spines.values():
        sp.set_linewidth(1.6)

# top panel: IR names as labels, km ticks unlabeled
ax1.set_xticks(ir_pos)
ax1.set_xticklabels(ir_names)
ax1.set_xticks(km_ticks[1:], minor=True)
ax1.tick_params(axis="x", which="major", length=0, pad=15)
ax1.tick_params(axis="x", which="minor", direction="in", top=True, bottom=True,
                length=11, width=1.5)

ax2.set_xticks(km_ticks)
ax2.set_xlabel("Longitudinal location [km]", fontsize=FS, labelpad=12)

fig.text(32 / W, 1 - 230 / H, "Δβ/β$_\\mathregular{y}$", rotation=90, ha="center", va="center", fontsize=FS)
fig.text(32 / W, 1 - 739 / H, "Δβ/β$_\\mathregular{x}$", rotation=90, ha="center", va="center", fontsize=FS)


# legend with horizontal error-bar samples, as in gnuplot keys
def proxy(color):
    line = Line2D([], [], color=color, marker="o", ms=MS - 0.5, mew=0, ls="none")
    cap = Line2D([], [], color=color, marker="|", ms=2 * CAP, mew=1.4, ls="none")
    bars = LineCollection([], colors=color, linewidths=1.0)
    return ErrorbarContainer((line, [cap, cap], [bars]), has_xerr=True, has_yerr=False)


ax1.legend([proxy(RED), proxy(BLUE)],
           ["(40cm, flat-orbit): Before global corr", "After global corr"],
           loc="upper right", bbox_to_anchor=(0.862, 0.966), frameon=False,
           markerfirst=False, fontsize=FS, handlelength=1.6, handletextpad=0.4,
           labelspacing=0.1, borderpad=0, borderaxespad=0)

fig.savefig("out.png", dpi=100)
